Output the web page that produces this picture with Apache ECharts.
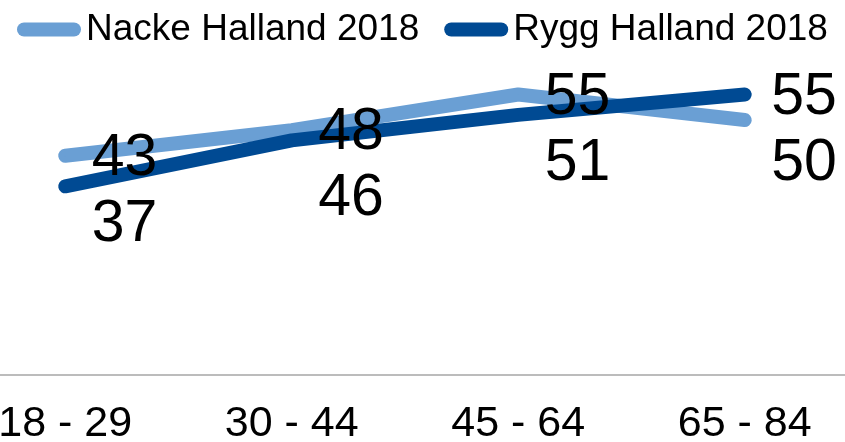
<!DOCTYPE html>
<html>
<head>
<meta charset="utf-8">
<script src="https://cdn.jsdelivr.net/npm/echarts@6/dist/echarts.min.js"></script>
<style>
  html, body { margin: 0; padding: 0; background: #fff; }
  #chart { width: 845px; height: 442px; }
</style>
</head>
<body>
<div id="chart"></div>
<script>
const categories = ['18 - 29', '30 - 44', '45 - 64', '65 - 84']
const seriesNames = ['Nacke Halland 2018', 'Rygg Halland 2018']
const nacke = [43, 48, 55, 50]
const rygg = [37, 46, 51, 55]

const COLORS = ['#6a9fd4', '#004a93']
const FONT = '"Liberation Sans", Arial, sans-serif'
const values = [nacke, rygg]

const chart = echarts.init(document.getElementById('chart'))

// lower label of a pair gets pushed below the upper one, like the original layout
function labelLayout(p) {
  const mine = values[p.seriesIndex][p.dataIndex]
  const other = values[1 - p.seriesIndex][p.dataIndex]
  if (mine >= other) return { dy: 3 }
  const unit = chart.convertToPixel({ yAxisIndex: 0 }, 0) - chart.convertToPixel({ yAxisIndex: 0 }, 1)
  const sep = (other - mine) * unit
  return { dy: Math.max(sep, 66) - sep + 3 }
}

function makeSeries(i, data) {
  return {
    name: seriesNames[i],
    type: 'line',
    data: data,
    symbol: 'circle',
    symbolSize: 1,
    showSymbol: true,
    z: 2,
    lineStyle: { color: COLORS[i], width: 14, cap: 'round', join: 'round' },
    itemStyle: { color: COLORS[i] },
    label: {
      show: true,
      position: 'right',
      distance: 26,
      color: '#000',
      fontFamily: FONT,
      fontSize: 59,
    },
    labelLayout: labelLayout,
  }
}

chart.setOption({
  animation: false,
  legend: {
    top: 6,
    left: 12,
    itemWidth: 64,
    itemHeight: 14,
    itemGap: 25,
    icon: 'path://M7,0 H57 A7,7 0 0 1 57,14 H7 A7,7 0 0 1 7,0 Z',
    textStyle: { color: '#000', fontFamily: FONT, fontSize: 37 },
    data: seriesNames,
  },
  grid: { left: -48, right: -13, top: 18, bottom: 67, outerBoundsMode: 'none', containLabel: false },
  xAxis: {
    type: 'category',
    data: categories,
    axisLine: { lineStyle: { color: '#a6a6a6', width: 1.5 } },
    axisTick: { show: false },
    axisLabel: { color: '#000', fontFamily: FONT, fontSize: 43, margin: 28 },
  },
  yAxis: {
    type: 'value',
    min: 0,
    max: 70,
    show: false,
    splitLine: { show: false },
  },
  series: [makeSeries(0, nacke), makeSeries(1, rygg)],
})
</script>
</body>
</html>
